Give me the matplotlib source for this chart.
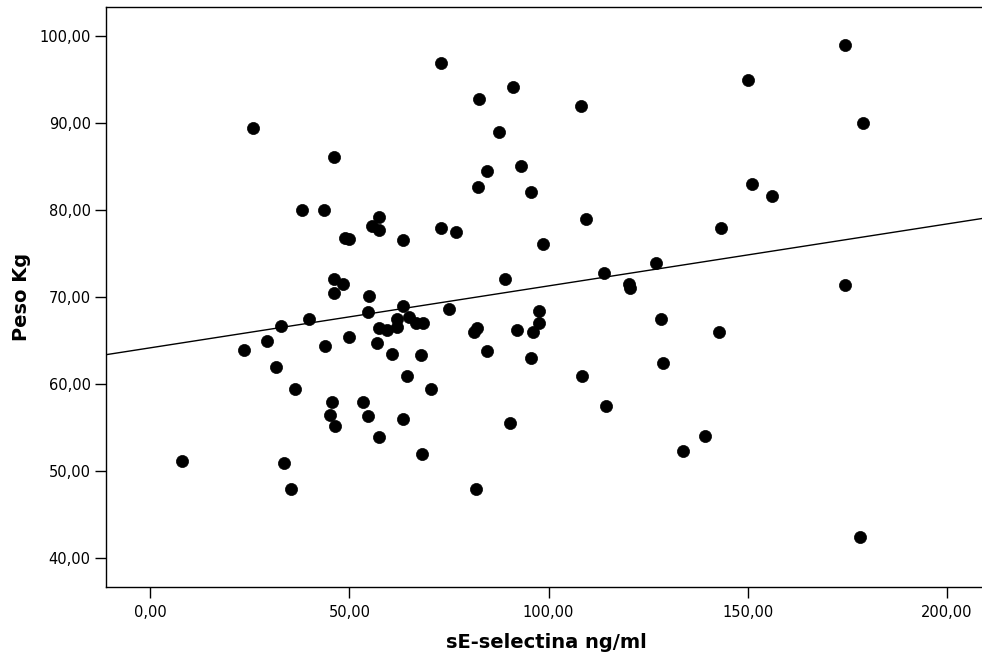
import numpy as np
import matplotlib
matplotlib.use("Agg")
import matplotlib.pyplot as plt
from matplotlib.ticker import FuncFormatter

plt.rcParams['font.family'] = ['DejaVu Sans']

# sE-selectina (ng/ml) vs peso (kg)
selectina = [25.9, 46.1, 38.1, 43.6, 57.4, 55.7, 57.4, 48.8, 49.9, 63.5,
             46.1, 48.3, 46.1, 55.0, 73.1, 82.5, 91.1, 108.1, 87.6, 84.6,
             93.0, 82.4, 95.5, 73.1, 76.7, 109.5, 98.7, 89.1, 114.0, 127.0,
             120.3, 120.5, 174.3, 150.1, 179.0, 151.0, 156.0, 143.3, 174.5,
             54.7, 63.5, 32.7, 39.8, 29.3, 23.5, 31.6, 36.3, 43.9, 49.9,
             57.4, 59.5, 62.0, 62.0, 56.9, 60.6, 45.7, 45.2, 46.3, 53.3,
             54.6, 57.4, 63.5, 8.0, 33.5, 35.4,
             75.1, 64.9, 66.6, 68.5, 82.1, 81.4, 92.0, 97.5, 97.5, 96.0,
             67.9, 84.6, 95.5, 64.5, 70.6, 128.1, 128.8, 108.4, 114.3, 90.2,
             68.3, 81.7, 133.7, 139.3, 142.8, 178.3]
peso = [89.5, 86.1, 80.0, 80.0, 79.2, 78.2, 77.7, 76.8, 76.7, 76.6,
        72.1, 71.5, 70.5, 70.1, 97.0, 92.8, 94.2, 92.0, 89.0, 84.5,
        85.1, 82.7, 82.1, 78.0, 77.5, 79.0, 76.1, 72.1, 72.8, 74.0,
        71.5, 71.1, 99.0, 95.0, 90.0, 83.0, 81.6, 78.0, 71.4,
        68.3, 69.0, 66.7, 67.5, 65.0, 64.0, 62.0, 59.5, 64.4, 65.5,
        66.5, 66.2, 67.5, 66.6, 64.8, 63.5, 58.0, 56.5, 55.2, 58.0,
        56.4, 54.0, 56.0, 51.2, 51.0, 48.0,
        68.7, 67.7, 67.0, 67.1, 66.5, 66.0, 66.2, 68.4, 67.0, 66.0,
        63.4, 63.8, 63.0, 61.0, 59.5, 67.5, 62.5, 61.0, 57.5, 55.5,
        52.0, 48.0, 52.3, 54.1, 66.0, 42.5]

# fit line as drawn in the chart
intercept = 64.2
slope = 0.0712

xticks = [0, 50, 100, 150, 200]
yticks = [40, 50, 60, 70, 80, 90, 100]

fig = plt.figure(figsize=(9.82, 6.60), dpi=100)
ax = fig.add_axes([0.108, 0.1106, 0.896, 0.879])

ax.scatter(selectina, peso, s=76, color='black', edgecolors='black', linewidths=0.5, zorder=3)

x_lim = (-11.1, 209.8)
xs = np.array(x_lim)
ax.plot(xs, intercept + slope * xs, color='black', linewidth=1.0, zorder=2)

ax.set_xlim(*x_lim)
ax.set_ylim(36.7, 103.4)
ax.set_xticks(xticks)
ax.set_yticks(yticks)
fmt = FuncFormatter(lambda v, p: f"{v:.2f}".replace('.', ','))
ax.xaxis.set_major_formatter(fmt)
ax.yaxis.set_major_formatter(fmt)
ax.tick_params(direction='out', length=8, width=1, labelsize=10.5, colors='black')
ax.tick_params(axis='x', pad=5)
ax.tick_params(axis='y', pad=3)

for s in ax.spines.values():
    s.set_linewidth(1.0)
ax.spines['right'].set_visible(False)

ax.set_xlabel('sE-selectina ng/ml', fontsize=14, fontweight='bold', labelpad=9)
ax.set_ylabel('Peso Kg', fontsize=14, fontweight='bold', labelpad=6)

fig.savefig('out.png', dpi=100)
